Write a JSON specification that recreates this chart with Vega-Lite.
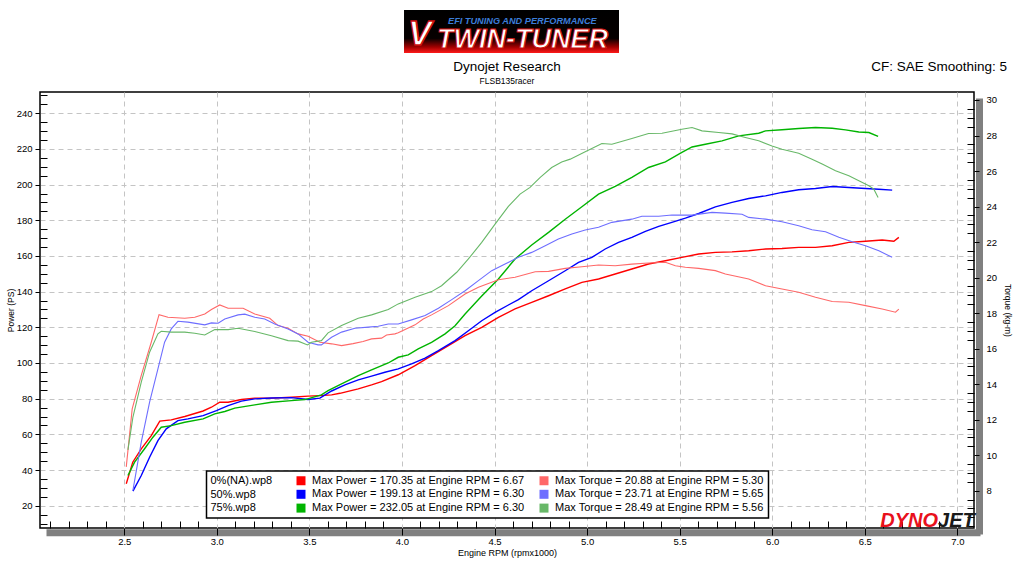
{
  "$schema": "https://vega.github.io/schema/vega-lite/v6.json",
  "background": "white",
  "padding": {"left": 5, "top": 10, "right": 5, "bottom": 5},
  "config": {
    "font": "Liberation Sans",
    "view": {"stroke": null},
    "axis": {"labelColor": "black", "titleColor": "black", "tickColor": "black", "labelFont": "Liberation Sans", "titleFont": "Liberation Sans", "labelFontSize": 9.5, "titleFontSize": 8.5, "titleFontWeight": "normal"}
  },
  "datasets": {
    "power": [
      {"s":"p0","rpm":2.511,"v":32.3},{"s":"p0","rpm":2.546,"v":44.4},{"s":"p0","rpm":2.592,"v":51.9},{"s":"p0","rpm":2.646,"v":59.3},{"s":"p0","rpm":2.692,"v":67.4},{"s":"p0","rpm":2.754,"v":68.1},{"s":"p0","rpm":2.827,"v":70.0},{"s":"p0","rpm":2.926,"v":73.1},{"s":"p0","rpm":2.971,"v":75.2},{"s":"p0","rpm":3.016,"v":78.0},{"s":"p0","rpm":3.061,"v":78.0},{"s":"p0","rpm":3.133,"v":79.5},{"s":"p0","rpm":3.205,"v":80.3},{"s":"p0","rpm":3.295,"v":80.3},{"s":"p0","rpm":3.403,"v":80.8},{"s":"p0","rpm":3.493,"v":81.4},{"s":"p0","rpm":3.557,"v":81.7},{"s":"p0","rpm":3.620,"v":82.1},{"s":"p0","rpm":3.665,"v":83.0},{"s":"p0","rpm":3.764,"v":85.5},{"s":"p0","rpm":3.836,"v":87.7},{"s":"p0","rpm":3.890,"v":89.5},{"s":"p0","rpm":3.980,"v":93.4},{"s":"p0","rpm":4.071,"v":98.5},{"s":"p0","rpm":4.160,"v":104.1},{"s":"p0","rpm":4.251,"v":109.7},{"s":"p0","rpm":4.341,"v":115.3},{"s":"p0","rpm":4.431,"v":120.0},{"s":"p0","rpm":4.521,"v":125.6},{"s":"p0","rpm":4.611,"v":130.3},{"s":"p0","rpm":4.701,"v":134.0},{"s":"p0","rpm":4.792,"v":137.7},{"s":"p0","rpm":4.882,"v":141.5},{"s":"p0","rpm":4.972,"v":145.2},{"s":"p0","rpm":5.062,"v":147.1},{"s":"p0","rpm":5.152,"v":149.9},{"s":"p0","rpm":5.242,"v":152.7},{"s":"p0","rpm":5.332,"v":155.5},{"s":"p0","rpm":5.423,"v":157.3},{"s":"p0","rpm":5.512,"v":159.2},{"s":"p0","rpm":5.603,"v":161.1},{"s":"p0","rpm":5.693,"v":162.0},{"s":"p0","rpm":5.783,"v":162.3},{"s":"p0","rpm":5.873,"v":162.9},{"s":"p0","rpm":5.964,"v":163.9},{"s":"p0","rpm":6.053,"v":164.2},{"s":"p0","rpm":6.143,"v":164.8},{"s":"p0","rpm":6.234,"v":164.8},{"s":"p0","rpm":6.324,"v":165.7},{"s":"p0","rpm":6.414,"v":167.6},{"s":"p0","rpm":6.504,"v":168.2},{"s":"p0","rpm":6.594,"v":168.9},{"s":"p0","rpm":6.657,"v":168.2},{"s":"p0","rpm":6.684,"v":170.4},
      {"s":"p50","rpm":2.547,"v":28.2},{"s":"p50","rpm":2.592,"v":36.9},{"s":"p50","rpm":2.637,"v":47.2},{"s":"p50","rpm":2.682,"v":56.5},{"s":"p50","rpm":2.727,"v":63.1},{"s":"p50","rpm":2.790,"v":67.7},{"s":"p50","rpm":2.844,"v":68.7},{"s":"p50","rpm":2.926,"v":70.5},{"s":"p50","rpm":2.998,"v":73.3},{"s":"p50","rpm":3.061,"v":76.1},{"s":"p50","rpm":3.133,"v":78.6},{"s":"p50","rpm":3.205,"v":79.9},{"s":"p50","rpm":3.295,"v":80.4},{"s":"p50","rpm":3.403,"v":80.6},{"s":"p50","rpm":3.493,"v":79.5},{"s":"p50","rpm":3.557,"v":80.3},{"s":"p50","rpm":3.620,"v":84.3},{"s":"p50","rpm":3.692,"v":87.7},{"s":"p50","rpm":3.764,"v":90.5},{"s":"p50","rpm":3.836,"v":92.6},{"s":"p50","rpm":3.908,"v":94.8},{"s":"p50","rpm":3.980,"v":96.7},{"s":"p50","rpm":4.052,"v":99.5},{"s":"p50","rpm":4.125,"v":102.7},{"s":"p50","rpm":4.197,"v":106.9},{"s":"p50","rpm":4.287,"v":112.5},{"s":"p50","rpm":4.359,"v":118.1},{"s":"p50","rpm":4.431,"v":123.7},{"s":"p50","rpm":4.503,"v":128.4},{"s":"p50","rpm":4.575,"v":132.5},{"s":"p50","rpm":4.629,"v":135.5},{"s":"p50","rpm":4.701,"v":140.5},{"s":"p50","rpm":4.792,"v":146.1},{"s":"p50","rpm":4.882,"v":151.7},{"s":"p50","rpm":4.954,"v":156.4},{"s":"p50","rpm":5.026,"v":159.2},{"s":"p50","rpm":5.098,"v":163.9},{"s":"p50","rpm":5.170,"v":167.6},{"s":"p50","rpm":5.242,"v":170.4},{"s":"p50","rpm":5.315,"v":173.8},{"s":"p50","rpm":5.387,"v":176.6},{"s":"p50","rpm":5.458,"v":178.8},{"s":"p50","rpm":5.531,"v":181.2},{"s":"p50","rpm":5.603,"v":183.8},{"s":"p50","rpm":5.693,"v":187.5},{"s":"p50","rpm":5.783,"v":190.0},{"s":"p50","rpm":5.873,"v":192.2},{"s":"p50","rpm":5.964,"v":193.7},{"s":"p50","rpm":6.053,"v":195.6},{"s":"p50","rpm":6.143,"v":197.1},{"s":"p50","rpm":6.234,"v":197.8},{"s":"p50","rpm":6.324,"v":198.9},{"s":"p50","rpm":6.414,"v":198.4},{"s":"p50","rpm":6.504,"v":197.8},{"s":"p50","rpm":6.576,"v":197.4},{"s":"p50","rpm":6.648,"v":196.9},
      {"s":"p75","rpm":2.520,"v":36.9},{"s":"p75","rpm":2.556,"v":44.4},{"s":"p75","rpm":2.610,"v":51.9},{"s":"p75","rpm":2.655,"v":58.4},{"s":"p75","rpm":2.700,"v":64.0},{"s":"p75","rpm":2.754,"v":64.9},{"s":"p75","rpm":2.827,"v":66.8},{"s":"p75","rpm":2.926,"v":68.7},{"s":"p75","rpm":2.989,"v":71.5},{"s":"p75","rpm":3.043,"v":72.8},{"s":"p75","rpm":3.097,"v":74.7},{"s":"p75","rpm":3.205,"v":76.5},{"s":"p75","rpm":3.295,"v":78.0},{"s":"p75","rpm":3.403,"v":78.9},{"s":"p75","rpm":3.476,"v":79.5},{"s":"p75","rpm":3.565,"v":82.1},{"s":"p75","rpm":3.601,"v":84.5},{"s":"p75","rpm":3.674,"v":88.3},{"s":"p75","rpm":3.764,"v":92.9},{"s":"p75","rpm":3.836,"v":96.1},{"s":"p75","rpm":3.926,"v":100.0},{"s":"p75","rpm":3.980,"v":103.2},{"s":"p75","rpm":4.034,"v":104.5},{"s":"p75","rpm":4.088,"v":107.9},{"s":"p75","rpm":4.160,"v":111.6},{"s":"p75","rpm":4.233,"v":116.3},{"s":"p75","rpm":4.287,"v":120.9},{"s":"p75","rpm":4.341,"v":127.5},{"s":"p75","rpm":4.431,"v":137.5},{"s":"p75","rpm":4.521,"v":147.1},{"s":"p75","rpm":4.611,"v":158.3},{"s":"p75","rpm":4.701,"v":166.1},{"s":"p75","rpm":4.792,"v":173.2},{"s":"p75","rpm":4.882,"v":180.6},{"s":"p75","rpm":4.972,"v":187.6},{"s":"p75","rpm":5.062,"v":194.6},{"s":"p75","rpm":5.152,"v":199.0},{"s":"p75","rpm":5.242,"v":204.0},{"s":"p75","rpm":5.332,"v":209.6},{"s":"p75","rpm":5.423,"v":212.7},{"s":"p75","rpm":5.512,"v":218.0},{"s":"p75","rpm":5.567,"v":221.1},{"s":"p75","rpm":5.639,"v":222.6},{"s":"p75","rpm":5.729,"v":224.5},{"s":"p75","rpm":5.819,"v":227.3},{"s":"p75","rpm":5.927,"v":228.8},{"s":"p75","rpm":5.964,"v":230.1},{"s":"p75","rpm":6.053,"v":230.7},{"s":"p75","rpm":6.143,"v":231.4},{"s":"p75","rpm":6.234,"v":232.0},{"s":"p75","rpm":6.324,"v":231.6},{"s":"p75","rpm":6.396,"v":230.7},{"s":"p75","rpm":6.468,"v":229.5},{"s":"p75","rpm":6.522,"v":229.2},{"s":"p75","rpm":6.572,"v":227.0}
    ],
    "torque": [
      {"s":"t0","rpm":2.511,"v":9.34},{"s":"t0","rpm":2.543,"v":12.61},{"s":"t0","rpm":2.592,"v":14.49},{"s":"t0","rpm":2.646,"v":16.36},{"s":"t0","rpm":2.688,"v":17.91},{"s":"t0","rpm":2.736,"v":17.77},{"s":"t0","rpm":2.827,"v":17.71},{"s":"t0","rpm":2.881,"v":17.77},{"s":"t0","rpm":2.935,"v":17.95},{"s":"t0","rpm":2.971,"v":18.20},{"s":"t0","rpm":3.016,"v":18.46},{"s":"t0","rpm":3.061,"v":18.27},{"s":"t0","rpm":3.142,"v":18.27},{"s":"t0","rpm":3.205,"v":17.95},{"s":"t0","rpm":3.286,"v":17.71},{"s":"t0","rpm":3.331,"v":17.30},{"s":"t0","rpm":3.385,"v":17.15},{"s":"t0","rpm":3.439,"v":16.83},{"s":"t0","rpm":3.493,"v":16.70},{"s":"t0","rpm":3.557,"v":16.36},{"s":"t0","rpm":3.620,"v":16.27},{"s":"t0","rpm":3.674,"v":16.17},{"s":"t0","rpm":3.736,"v":16.28},{"s":"t0","rpm":3.790,"v":16.40},{"s":"t0","rpm":3.836,"v":16.55},{"s":"t0","rpm":3.890,"v":16.59},{"s":"t0","rpm":3.917,"v":16.77},{"s":"t0","rpm":3.962,"v":16.83},{"s":"t0","rpm":3.980,"v":16.89},{"s":"t0","rpm":4.071,"v":17.34},{"s":"t0","rpm":4.115,"v":17.67},{"s":"t0","rpm":4.160,"v":17.90},{"s":"t0","rpm":4.251,"v":18.42},{"s":"t0","rpm":4.341,"v":19.08},{"s":"t0","rpm":4.413,"v":19.45},{"s":"t0","rpm":4.521,"v":19.88},{"s":"t0","rpm":4.611,"v":20.02},{"s":"t0","rpm":4.720,"v":20.33},{"s":"t0","rpm":4.792,"v":20.35},{"s":"t0","rpm":4.882,"v":20.52},{"s":"t0","rpm":4.972,"v":20.61},{"s":"t0","rpm":5.062,"v":20.71},{"s":"t0","rpm":5.152,"v":20.67},{"s":"t0","rpm":5.242,"v":20.76},{"s":"t0","rpm":5.332,"v":20.82},{"s":"t0","rpm":5.423,"v":20.86},{"s":"t0","rpm":5.477,"v":20.67},{"s":"t0","rpm":5.531,"v":20.58},{"s":"t0","rpm":5.603,"v":20.52},{"s":"t0","rpm":5.693,"v":20.39},{"s":"t0","rpm":5.747,"v":20.20},{"s":"t0","rpm":5.873,"v":19.92},{"s":"t0","rpm":5.964,"v":19.54},{"s":"t0","rpm":6.053,"v":19.36},{"s":"t0","rpm":6.143,"v":19.17},{"s":"t0","rpm":6.234,"v":18.89},{"s":"t0","rpm":6.324,"v":18.65},{"s":"t0","rpm":6.414,"v":18.61},{"s":"t0","rpm":6.504,"v":18.42},{"s":"t0","rpm":6.594,"v":18.23},{"s":"t0","rpm":6.666,"v":18.05},{"s":"t0","rpm":6.684,"v":18.23},
      {"s":"t50","rpm":2.547,"v":8.02},{"s":"t50","rpm":2.592,"v":10.74},{"s":"t50","rpm":2.637,"v":12.99},{"s":"t50","rpm":2.682,"v":14.86},{"s":"t50","rpm":2.718,"v":16.36},{"s":"t50","rpm":2.754,"v":17.11},{"s":"t50","rpm":2.790,"v":17.54},{"s":"t50","rpm":2.844,"v":17.49},{"s":"t50","rpm":2.935,"v":17.34},{"s":"t50","rpm":2.971,"v":17.45},{"s":"t50","rpm":3.007,"v":17.43},{"s":"t50","rpm":3.043,"v":17.67},{"s":"t50","rpm":3.115,"v":17.90},{"s":"t50","rpm":3.151,"v":17.94},{"s":"t50","rpm":3.205,"v":17.77},{"s":"t50","rpm":3.259,"v":17.67},{"s":"t50","rpm":3.313,"v":17.39},{"s":"t50","rpm":3.385,"v":17.11},{"s":"t50","rpm":3.439,"v":16.83},{"s":"t50","rpm":3.493,"v":16.36},{"s":"t50","rpm":3.547,"v":16.21},{"s":"t50","rpm":3.565,"v":16.21},{"s":"t50","rpm":3.620,"v":16.64},{"s":"t50","rpm":3.674,"v":16.93},{"s":"t50","rpm":3.746,"v":17.15},{"s":"t50","rpm":3.818,"v":17.21},{"s":"t50","rpm":3.872,"v":17.26},{"s":"t50","rpm":3.926,"v":17.39},{"s":"t50","rpm":3.980,"v":17.39},{"s":"t50","rpm":4.052,"v":17.62},{"s":"t50","rpm":4.125,"v":17.86},{"s":"t50","rpm":4.197,"v":18.27},{"s":"t50","rpm":4.269,"v":18.76},{"s":"t50","rpm":4.341,"v":19.26},{"s":"t50","rpm":4.413,"v":19.83},{"s":"t50","rpm":4.485,"v":20.39},{"s":"t50","rpm":4.557,"v":20.76},{"s":"t50","rpm":4.629,"v":21.14},{"s":"t50","rpm":4.701,"v":21.42},{"s":"t50","rpm":4.774,"v":21.79},{"s":"t50","rpm":4.845,"v":22.17},{"s":"t50","rpm":4.918,"v":22.45},{"s":"t50","rpm":4.990,"v":22.68},{"s":"t50","rpm":5.062,"v":22.83},{"s":"t50","rpm":5.134,"v":23.11},{"s":"t50","rpm":5.242,"v":23.29},{"s":"t50","rpm":5.296,"v":23.45},{"s":"t50","rpm":5.387,"v":23.45},{"s":"t50","rpm":5.458,"v":23.52},{"s":"t50","rpm":5.567,"v":23.52},{"s":"t50","rpm":5.675,"v":23.67},{"s":"t50","rpm":5.747,"v":23.63},{"s":"t50","rpm":5.837,"v":23.57},{"s":"t50","rpm":5.873,"v":23.39},{"s":"t50","rpm":5.964,"v":23.29},{"s":"t50","rpm":6.053,"v":23.14},{"s":"t50","rpm":6.143,"v":22.92},{"s":"t50","rpm":6.215,"v":22.69},{"s":"t50","rpm":6.288,"v":22.58},{"s":"t50","rpm":6.360,"v":22.27},{"s":"t50","rpm":6.432,"v":22.02},{"s":"t50","rpm":6.504,"v":21.79},{"s":"t50","rpm":6.576,"v":21.51},{"s":"t50","rpm":6.648,"v":21.14},
      {"s":"t75","rpm":2.520,"v":10.3},{"s":"t75","rpm":2.547,"v":12.15},{"s":"t75","rpm":2.592,"v":14.11},{"s":"t75","rpm":2.637,"v":15.80},{"s":"t75","rpm":2.682,"v":16.83},{"s":"t75","rpm":2.700,"v":16.98},{"s":"t75","rpm":2.754,"v":16.93},{"s":"t75","rpm":2.827,"v":16.93},{"s":"t75","rpm":2.881,"v":16.87},{"s":"t75","rpm":2.935,"v":16.77},{"s":"t75","rpm":2.989,"v":17.07},{"s":"t75","rpm":3.061,"v":17.07},{"s":"t75","rpm":3.115,"v":17.15},{"s":"t75","rpm":3.205,"v":16.96},{"s":"t75","rpm":3.295,"v":16.73},{"s":"t75","rpm":3.385,"v":16.45},{"s":"t75","rpm":3.439,"v":16.42},{"s":"t75","rpm":3.490,"v":16.21},{"s":"t75","rpm":3.511,"v":16.36},{"s":"t75","rpm":3.565,"v":16.45},{"s":"t75","rpm":3.601,"v":16.89},{"s":"t75","rpm":3.674,"v":17.30},{"s":"t75","rpm":3.764,"v":17.71},{"s":"t75","rpm":3.836,"v":17.90},{"s":"t75","rpm":3.926,"v":18.20},{"s":"t75","rpm":3.980,"v":18.52},{"s":"t75","rpm":4.071,"v":18.89},{"s":"t75","rpm":4.160,"v":19.21},{"s":"t75","rpm":4.214,"v":19.54},{"s":"t75","rpm":4.296,"v":20.30},{"s":"t75","rpm":4.359,"v":21.05},{"s":"t75","rpm":4.431,"v":21.98},{"s":"t75","rpm":4.503,"v":23.01},{"s":"t75","rpm":4.575,"v":24.01},{"s":"t75","rpm":4.638,"v":24.70},{"s":"t75","rpm":4.692,"v":25.08},{"s":"t75","rpm":4.747,"v":25.64},{"s":"t75","rpm":4.809,"v":26.20},{"s":"t75","rpm":4.863,"v":26.51},{"s":"t75","rpm":4.909,"v":26.67},{"s":"t75","rpm":4.990,"v":27.08},{"s":"t75","rpm":5.080,"v":27.55},{"s":"t75","rpm":5.134,"v":27.51},{"s":"t75","rpm":5.242,"v":27.83},{"s":"t75","rpm":5.332,"v":28.11},{"s":"t75","rpm":5.405,"v":28.13},{"s":"t75","rpm":5.512,"v":28.35},{"s":"t75","rpm":5.567,"v":28.45},{"s":"t75","rpm":5.621,"v":28.26},{"s":"t75","rpm":5.711,"v":28.17},{"s":"t75","rpm":5.783,"v":28.09},{"s":"t75","rpm":5.855,"v":27.89},{"s":"t75","rpm":5.927,"v":27.70},{"s":"t75","rpm":5.999,"v":27.41},{"s":"t75","rpm":6.053,"v":27.23},{"s":"t75","rpm":6.143,"v":27.00},{"s":"t75","rpm":6.215,"v":26.67},{"s":"t75","rpm":6.270,"v":26.39},{"s":"t75","rpm":6.342,"v":26.01},{"s":"t75","rpm":6.414,"v":25.73},{"s":"t75","rpm":6.468,"v":25.45},{"s":"t75","rpm":6.522,"v":25.17},{"s":"t75","rpm":6.549,"v":24.98},{"s":"t75","rpm":6.572,"v":24.51}
    ]
  },
  "spacing": 4,
  "vconcat": [
    {
      "width": 579,
      "height": 43,
      "view": {"stroke": null},
      "data": {"values": [{"k": 1}]},
      "layer": [
        {
          "mark": {"type": "rect", "fill": {"gradient": "linear", "x1": 0, "y1": 0, "x2": 0, "y2": 1, "stops": [{"offset": 0, "color": "#000000"}, {"offset": 0.66, "color": "#060000"}, {"offset": 0.86, "color": "#a00000"}, {"offset": 1, "color": "#ff1a1a"}]}},
          "encoding": {
            "x": {"datum": 0.6287, "type": "quantitative", "scale": {"domain": [0, 1], "nice": false, "zero": false}, "axis": null},
            "x2": {"datum": 1},
            "y": {"datum": 0, "type": "quantitative", "scale": {"domain": [0, 1], "nice": false, "zero": false}, "axis": null},
            "y2": {"datum": 1}
          }
        },
        {
          "mark": {"type": "text", "text": "V", "align": "left", "baseline": "alphabetic", "font": "Liberation Sans", "fontSize": 35, "fontWeight": "bold", "fontStyle": "italic", "fill": "white", "stroke": "#d01010", "strokeWidth": 1.5},
          "encoding": {"x": {"datum": 0.6356, "type": "quantitative"}, "y": {"datum": 0.19, "type": "quantitative"}}
        },
        {
          "mark": {"type": "text", "text": "TWIN-TUNER", "align": "left", "baseline": "alphabetic", "font": "Liberation Sans", "fontSize": 27, "fontWeight": "bold", "fontStyle": "italic", "fill": "white", "stroke": "#d01010", "strokeWidth": 1},
          "encoding": {"x": {"datum": 0.6857, "type": "quantitative"}, "y": {"datum": 0.115, "type": "quantitative"}}
        },
        {
          "mark": {"type": "text", "text": "EFI TUNING AND PERFORMANCE", "align": "left", "baseline": "alphabetic", "font": "Liberation Sans", "fontSize": 9.2, "fontWeight": "bold", "fontStyle": "italic", "fill": "#3b7dd8"},
          "encoding": {"x": {"datum": 0.7047, "type": "quantitative"}, "y": {"datum": 0.68, "type": "quantitative"}}
        }
      ]
    },
    {
      "width": 934,
      "height": 436,
      "view": {"stroke": "black", "strokeWidth": 1.5},
      "title": {"text": "Dynojet Research", "subtitle": "FLSB135racer", "frame": "group", "anchor": "middle", "offset": -26, "font": "Liberation Sans", "fontSize": 13.5, "fontWeight": "normal", "color": "black", "subtitleFont": "Liberation Sans", "subtitleFontSize": 8.5, "subtitleColor": "black", "subtitlePadding": 3},
      "layer": [
        {
          "data": {"values": [{"t": "DYNO"}]},
          "mark": {"type": "text", "align": "right", "baseline": "alphabetic", "font": "Liberation Sans", "fontSize": 20, "fontWeight": "bold", "fontStyle": "italic", "fill": "#e8101c"},
          "encoding": {
            "text": {"field": "t"},
            "x": {"datum": 6.896, "type": "quantitative", "scale": {"domain": [2.045, 7.09], "nice": false, "zero": false},
                  "axis": {"orient": "bottom", "domain": true, "domainColor": "#808080", "domainWidth": 7, "ticks": false, "labels": false, "grid": false, "title": null, "translate": 6.5, "offset": -1.7}},
            "y": {"datum": 5.98, "type": "quantitative", "scale": {"domain": [5.9, 30.45], "nice": false, "zero": false},
                  "axis": {"orient": "right", "domain": true, "domainColor": "#808080", "domainWidth": 7, "ticks": false, "labels": false, "grid": false, "title": null, "translate": 6.5, "offset": -1}}
          }
        },
        {
          "data": {"values": [{"t": "JET"}]},
          "mark": {"type": "text", "align": "left", "baseline": "alphabetic", "font": "Liberation Sans", "fontSize": 20, "fontWeight": "bold", "fontStyle": "italic", "fill": "#1a1a1a"},
          "encoding": {
            "text": {"field": "t"},
            "x": {"datum": 6.896, "type": "quantitative", "scale": {"domain": [2.045, 7.09], "nice": false, "zero": false},
                  "axis": {"orient": "top", "domain": false, "ticks": false, "labels": false, "grid": false, "title": "CF: SAE Smoothing: 5", "titleX": 966.5, "titleY": -21.7, "titleAlign": "right", "titleBaseline": "alphabetic", "titleAngle": 0, "titleFontSize": 13.5, "titleFont": "Liberation Sans", "titleFontWeight": "normal"}},
            "y": {"datum": 5.98, "type": "quantitative", "scale": {"domain": [5.9, 30.45], "nice": false, "zero": false}, "axis": null}
          }
        },
        {
          "data": {"name": "power"},
          "mark": {"type": "line", "strokeWidth": 1.4},
          "encoding": {
            "x": {"field": "rpm", "type": "quantitative", "scale": {"domain": [2.045, 7.09], "nice": false, "zero": false},
                  "axis": {"orient": "bottom", "values": [2.1,2.2,2.3,2.4,2.5,2.6,2.7,2.8,2.9,3.0,3.1,3.2,3.3,3.4,3.5,3.6,3.7,3.8,3.9,4.0,4.1,4.2,4.3,4.4,4.5,4.6,4.7,4.8,4.9,5.0,5.1,5.2,5.3,5.4,5.5,5.6,5.7,5.8,5.9,6.0,6.1,6.2,6.3,6.4,6.5,6.6,6.7,6.8,6.9,7.0],
                           "labelExpr": "round(datum.value*10) % 5 === 0 ? format(datum.value, '.1f') : ''",
                           "tickSize": {"condition": {"test": "round(datum.value*10) % 5 === 0", "value": 7}, "value": -7},
                           "grid": true, "gridOpacity": {"condition": {"test": "round(datum.value*10) % 5 === 0", "value": 1}, "value": 0},
                           "gridColor": "#c4c4c4", "gridDash": [5, 4], "domain": false, "labelPadding": 1, "labelFlush": false, "labelOverlap": false,
                           "title": "Engine RPM (rpmx1000)", "titlePadding": 3, "titleFontSize": 9}},
            "y": {"field": "v", "type": "quantitative", "scale": {"domain": [7.5, 251.9], "nice": false, "zero": false},
                  "axis": {"orient": "left", "values": [10,15,20,25,30,35,40,45,50,55,60,65,70,75,80,85,90,95,100,105,110,115,120,125,130,135,140,145,150,155,160,165,170,175,180,185,190,195,200,205,210,215,220,225,230,235,240,245,250],
                           "labelExpr": "datum.value % 20 === 0 ? datum.value : ''",
                           "tickSize": {"condition": {"test": "datum.value % 20 === 0", "value": 5}, "value": -7},
                           "grid": true, "gridOpacity": {"condition": {"test": "datum.value % 20 === 0", "value": 1}, "value": 0},
                           "gridColor": "#c4c4c4", "gridDash": [5, 4], "domain": false, "labelPadding": 3, "labelOverlap": false, "labelFlush": false,
                           "title": "Power (PS)", "titlePadding": 1, "titleFontSize": 8.5}},
            "color": {"field": "s", "type": "nominal",
                      "scale": {"domain": ["p0","t0","p50","t50","p75","t75"], "range": ["#ff0000","#ff6868","#0000ff","#6e6eff","#00b400","#68b868"]},
                      "legend": {"orient": "none", "legendX": 166.5, "legendY": 461, "direction": "horizontal",
                                 "title": ["0%(NA).wp8", "50%.wp8", "75%.wp8"], "titleOrient": "left", "titleAnchor": "start", "titleAlign": "left", "titleBaseline": "top",
                                 "titleFont": "Liberation Sans", "titleFontSize": 11, "titleFontWeight": "normal", "titleColor": "black", "titleLineHeight": 13.6, "titlePadding": 23,
                                 "columns": 2, "columnPadding": 14, "rowPadding": 1.8,
                                 "symbolType": "square", "symbolSize": 81, "symbolStrokeWidth": 0,
                                 "labelFont": "Liberation Sans", "labelFontSize": 11, "labelColor": "black", "labelOffset": 5.5, "labelLimit": 400,
                                 "labelExpr": "{p0: 'Max Power = 170.35 at Engine RPM = 6.67', t0: 'Max Torque = 20.88 at Engine RPM = 5.30', p50: 'Max Power = 199.13 at Engine RPM = 6.30', t50: 'Max Torque = 23.71 at Engine RPM = 5.65', p75: 'Max Power = 232.05 at Engine RPM = 6.30', t75: 'Max Torque = 28.49 at Engine RPM = 5.56'}[datum.value] + (indexof(datum.value, 't') === 0 ? '\u00a0\u00a0\u00a0\u00a0\u00a0\u00a0\u00a0\u00a0\u00a0\u00a0\u00a0' : '')",
                                 "strokeColor": "black", "fillColor": "white", "padding": 4,
                                 "encode": {"legend": {"update": {"strokeWidth": {"value": 1.5}}}, "symbols": {"update": {"fill": {"scale": "color", "field": "value"}, "opacity": {"value": 1}, "fillOpacity": {"value": 1}}}}}}
          }
        },
        {
          "data": {"name": "torque"},
          "mark": {"type": "line", "strokeWidth": 1.1},
          "encoding": {
            "x": {"field": "rpm", "type": "quantitative", "scale": {"domain": [2.045, 7.09], "nice": false, "zero": false}, "axis": null},
            "y": {"field": "v", "type": "quantitative", "scale": {"domain": [5.9, 30.45], "nice": false, "zero": false},
                  "axis": {"orient": "right", "values": [6,6.5,7,7.5,8,8.5,9,9.5,10,10.5,11,11.5,12,12.5,13,13.5,14,14.5,15,15.5,16,16.5,17,17.5,18,18.5,19,19.5,20,20.5,21,21.5,22,22.5,23,23.5,24,24.5,25,25.5,26,26.5,27,27.5,28,28.5,29,29.5,30],
                           "labelExpr": "datum.value % 2 === 0 && datum.value >= 8 ? datum.value : ''",
                           "tickSize": {"condition": {"test": "datum.value % 2 === 0 && datum.value >= 8", "value": 5}, "value": -7},
                           "grid": false, "domain": false, "labelPadding": 7, "labelOverlap": false, "labelFlush": false,
                           "title": "Torque (kg-m)", "titlePadding": 6, "titleFontSize": 8.5}},
            "color": {"field": "s", "type": "nominal",
                      "scale": {"domain": ["p0","t0","p50","t50","p75","t75"], "range": ["#ff0000","#ff6868","#0000ff","#6e6eff","#00b400","#68b868"]}}
          }
        }
      ],
      "resolve": {"scale": {"y": "independent"}, "axis": {"x": "independent", "y": "independent"}}
    }
  ]
}
